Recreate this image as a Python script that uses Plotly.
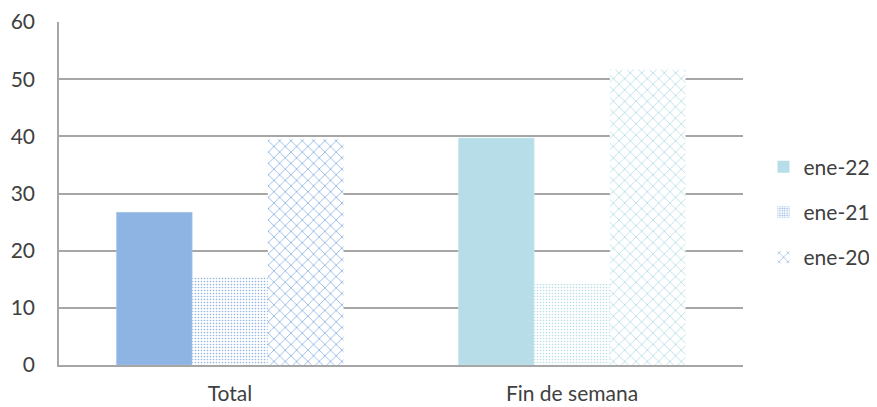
import plotly.graph_objects as go

categories = ["Total", "Fin de semana"]
series_names = ["ene-22", "ene-21", "ene-20"]
ene22 = [26.7, 39.7]
ene21 = [15.4, 14.2]
ene20 = [39.5, 51.7]
y_ticks = [0, 10, 20, 30, 40, 50, 60]

# per-category colours (as in the original)
col22 = ["#8EB4E3", "#B7DEE8"]
col21 = ["#8EB4E3", "#B7DEE8"]
col20 = ["#8EB4E3", "#B7DEE8"]
legend_col = "#B7DEE8"

fig = go.Figure()

fig.add_trace(go.Bar(
    x=categories, y=ene22, name=series_names[0], showlegend=False, offsetgroup="a",
    marker=dict(color=col22, line=dict(width=0.6, color=["#A9C6EA", "#C6E6EE"])),
))
fig.add_trace(go.Bar(
    x=categories, y=ene21, name=series_names[1], showlegend=False, offsetgroup="b",
    marker=dict(color="white", line=dict(width=0),
                pattern=dict(shape=".", fgcolor=col21, bgcolor="white",
                             size=3, solidity=0.22, fillmode="replace")),
))
fig.add_trace(go.Bar(
    x=categories, y=ene20, name=series_names[2], showlegend=False, offsetgroup="c",
    marker=dict(color="white", line=dict(width=0),
                pattern=dict(shape="x", fgcolor=col20, bgcolor="white",
                             size=8, solidity=0.2, fillmode="replace")),
))

# legend-only entries
fig.add_trace(go.Bar(x=[None], y=[None], name=series_names[0], legendgroup="a", offsetgroup="a",
                     marker=dict(color=legend_col, line=dict(width=0))))
fig.add_trace(go.Bar(x=[None], y=[None], name=series_names[1], legendgroup="b", offsetgroup="b",
                     marker=dict(color="white", line=dict(width=0),
                                 pattern=dict(shape=".", fgcolor="#8EB4E3", bgcolor="white",
                                              size=3, solidity=0.35, fillmode="replace"))))
fig.add_trace(go.Bar(x=[None], y=[None], name=series_names[2], legendgroup="c", offsetgroup="c",
                     marker=dict(color="white", line=dict(width=0),
                                 pattern=dict(shape="x", fgcolor="#8EB4E3", bgcolor="white",
                                              size=8, solidity=0.2, fillmode="replace"))))

fig.update_layout(
    width=870, height=399,
    margin=dict(l=51, r=135, t=14, b=42, autoexpand=False),
    paper_bgcolor="white", plot_bgcolor="white",
    barmode="group", bargap=0.336, bargroupgap=0,
    font=dict(family="Lato, Open Sans, sans-serif", size=21, color="#404040"),
    showlegend=True,
    legend=dict(x=1.03, y=0.446, xanchor="left", yanchor="middle",
                tracegroupgap=15, font=dict(size=21, color="#404040"),
                bgcolor="rgba(0,0,0,0)"),
    xaxis=dict(showgrid=False, showline=True, linecolor="#A6A6A6", linewidth=1.5,
               ticks="", tickfont=dict(size=21), automargin=False, ticklabelstandoff=9),
    yaxis=dict(range=[0, 60], tickvals=y_ticks, showgrid=True, gridcolor="#A6A6A6",
               gridwidth=1.5, showline=True, linecolor="#A6A6A6", linewidth=1.5,
               zeroline=False, ticks="", ticklabelstandoff=18, tickfont=dict(size=21),
               automargin=False),
)

fig.write_html("out.html")
